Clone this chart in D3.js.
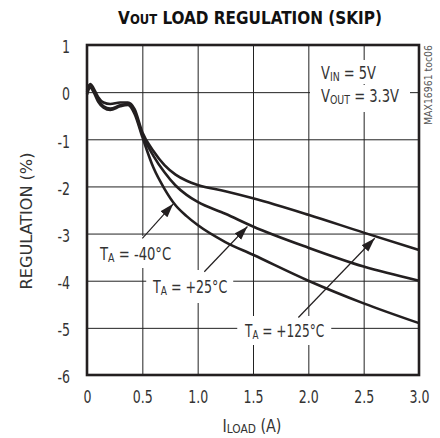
<!DOCTYPE html>
<html><head><meta charset="utf-8">
<script src="https://cdn.jsdelivr.net/npm/d3@7"></script>
<style>
body{margin:0;background:#fff}
svg{display:block}
text{font-family:"DejaVu Sans Condensed","Liberation Sans Narrow","Roboto",sans-serif;fill:#333}
</style></head>
<body><svg id="c" width="440" height="438"></svg>
<script>
// Data
const xTicks = [0, 0.5, 1.0, 1.5, 2.0, 2.5, 3.0];
const xTickLabels = ["0", "0.5", "1.0", "1.5", "2.0", "2.5", "3.0"];
const yTicks = [1, 0, -1, -2, -3, -4, -5, -6];
const yTickLabels = ["1", "0", "-1", "-2", "-3", "-4", "-5", "-6"];
const loadA = [0, 0.03, 0.06, 0.1, 0.15, 0.21, 0.3, 0.37, 0.43, 0.5, 0.6, 0.7, 0.8, 0.9, 1.0, 1.25, 1.5, 2.0, 2.5, 3.0];
const reg125 = [0.05, 0.17, 0.08, -0.1, -0.22, -0.25, -0.22, -0.22, -0.36, -0.85, -1.25, -1.55, -1.75, -1.88, -1.97, -2.1, -2.25, -2.6, -2.98, -3.35];
const reg25  = [0.0, 0.15, 0.04, -0.15, -0.3, -0.35, -0.28, -0.25, -0.42, -0.9, -1.35, -1.7, -1.98, -2.18, -2.33, -2.58, -2.85, -3.3, -3.7, -4.0];
const regM40 = [-0.05, 0.1, 0.0, -0.2, -0.33, -0.38, -0.3, -0.27, -0.46, -0.95, -1.6, -2.05, -2.4, -2.63, -2.82, -3.18, -3.45, -4.0, -4.48, -4.9];
const series = [
  {name: "+125", values: reg125},
  {name: "+25", values: reg25},
  {name: "-40", values: regM40}
];

const svg = d3.select("#c");
const x = d3.scaleLinear().domain([0, 3]).range([87, 419]);
const y = d3.scaleLinear().domain([-6, 1]).range([375, 45]);

// grid
svg.append("g").attr("transform", `translate(0,${y(-6)})`)
  .call(d3.axisBottom(x).tickValues(xTicks.slice(1, -1)).tickSize(-(y(-6) - y(1))).tickFormat(""))
  .call(g => g.select(".domain").remove())
  .call(g => g.selectAll("line").attr("stroke", "#222").attr("stroke-width", 1));
svg.append("g").attr("transform", `translate(${x(0)},0)`)
  .call(d3.axisLeft(y).tickValues(yTicks.slice(1, -1)).tickSize(-(x(3) - x(0))).tickFormat(""))
  .call(g => g.select(".domain").remove())
  .call(g => g.selectAll("line").attr("stroke", "#222").attr("stroke-width", 1));

// measure condensed factor for tick labels (target "0.5" ≈ 20px wide at 18px)
const probe = svg.append("text").attr("font-size", 18).text("0.5");
const SX = 20 / probe.node().getComputedTextLength();
probe.remove();

// tick labels
svg.append("g").attr("transform", `translate(0,${y(-6)})`)
  .call(d3.axisBottom(x).tickValues(xTicks).tickSize(0).tickPadding(15).tickFormat((d, i) => xTickLabels[i]))
  .call(g => g.select(".domain").remove())
  .call(g => g.selectAll("text").attr("font-size", 18).attr("fill", "#333").attr("font-family", null)
    .attr("transform", `scale(${SX},1)`));
svg.append("g").attr("transform", `translate(${x(0)},0)`)
  .call(d3.axisLeft(y).tickValues(yTicks).tickSize(0).tickFormat((d, i) => yTickLabels[i]))
  .call(g => g.select(".domain").remove())
  .call(g => g.selectAll("text").attr("font-size", 18).attr("fill", "#333").attr("font-family", null)
    .attr("x", -17 / SX).attr("dy", "0.43em").attr("transform", `scale(${SX},1)`));

// fitted label helper: parts = [[text, relSize, dy], ...]
function fitLabel(xp, yp, anchor, size, parts, targetW, opts = {}) {
  const g = svg.append("g").attr("transform", `translate(${xp},${yp})` + (opts.rotate ? ` rotate(${opts.rotate})` : ""));
  const r = opts.bg ? g.append("rect").attr("fill", "#fff") : null;
  const t = g.append("text").attr("text-anchor", anchor).attr("font-size", size);
  if (opts.bold) t.attr("font-weight", "bold");
  if (opts.fill) t.style("fill", opts.fill);
  parts.forEach(p => {
    const s = t.append("tspan").text(p[0]);
    if (p[1] !== 1) s.attr("font-size", size * p[1]);
    if (p[2]) s.attr("dy", p[2]);
  });
  const b = t.node().getBBox();
  const sx = targetW / b.width;
  t.attr("transform", `scale(${sx},1)`);
  if (r) {
    const [px, pt, pb] = opts.bg;
    r.attr("x", b.x * sx - px).attr("y", b.y - pt).attr("width", b.width * sx + 2 * px).attr("height", b.height + pt + pb);
  }
  return g;
}

// annotations
fitLabel(321, 79, "start", 18, [["V", 1], ["IN", 0.72, 2], [" = 5V", 1, -2]], 55, {bg: [11, 2, 0]});
fitLabel(321, 102, "start", 18, [["V", 1], ["OUT", 0.72, 2], [" = 3.3V", 1, -2]], 78, {bg: [11, 0, 5]});
fitLabel(100, 260, "start", 18, [["T", 1], ["A", 0.72, 2], [" = -40°C", 1, -2]], 72, {bg: [4, 7, 3]});
fitLabel(153, 293, "start", 18, [["T", 1], ["A", 0.72, 2], [" = +25°C", 1, -2]], 75, {bg: [6, 6, 5]});
fitLabel(245, 337, "start", 18, [["T", 1], ["A", 0.72, 2], [" = +125°C", 1, -2]], 80, {bg: [7, 4, 3]});

// curves
const line = d3.line().x((d, i) => x(loadA[i])).y(d => y(d)).curve(d3.curveMonotoneX);
svg.append("g").selectAll("path").data(series).join("path")
  .attr("d", d => line(d.values))
  .attr("fill", "none").attr("stroke", "#231f20").attr("stroke-width", 2.6).attr("stroke-linejoin", "round");

// arrows
svg.append("defs").append("marker").attr("id", "ah")
  .attr("viewBox", "0 0 10 10").attr("refX", 10).attr("refY", 5)
  .attr("markerWidth", 14).attr("markerHeight", 14).attr("markerUnits", "userSpaceOnUse")
  .attr("orient", "auto")
  .append("path").attr("d", "M0,1.7 L10,5 L0,8.3 Z").attr("fill", "#231f20");
const arrows = [
  [0.5, -3.1, 0.78, -2.37],
  [1.06, -3.81, 1.45, -2.85],
  [1.91, -4.78, 2.6, -3.1]
];
svg.append("g").selectAll("line").data(arrows).join("line")
  .attr("x1", d => x(d[0])).attr("y1", d => y(d[1]))
  .attr("x2", d => x(d[2])).attr("y2", d => y(d[3]))
  .attr("stroke", "#231f20").attr("stroke-width", 1.2).attr("marker-end", "url(#ah)");

// frame
svg.append("rect").attr("x", x(0)).attr("y", y(1)).attr("width", x(3) - x(0)).attr("height", y(-6) - y(1))
  .attr("fill", "none").attr("stroke", "#231f20").attr("stroke-width", 2.6);

// title
fitLabel(250, 23.5, "middle", 18, [["V", 1], ["OUT", 0.76, 0], [" LOAD REGULATION (SKIP)", 1, 0]], 264, {bold: true, fill: "#111"});

// axis titles
fitLabel(252, 432, "middle", 17, [["I", 1], ["LOAD", 0.74, 1], [" (A)", 1, -1]], 59);
fitLabel(32, 221, "middle", 16, [["REGULATION (%)", 1]], 137, {rotate: -90});
fitLabel(432, 85, "middle", 11, [["MAX16961 toc06", 1]], 80, {rotate: -90, fill: "#555"});
</script></body></html>
